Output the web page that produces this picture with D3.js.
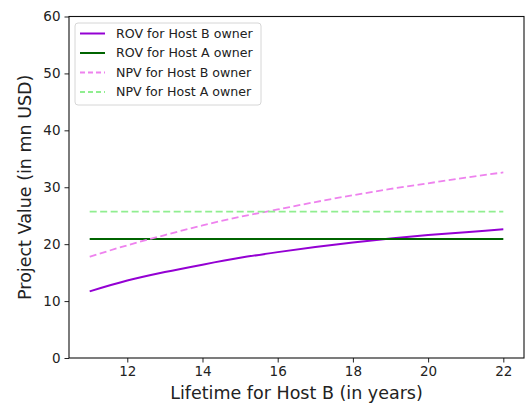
<!DOCTYPE html>
<html>
<head>
<meta charset="utf-8">
<script src="https://cdn.jsdelivr.net/npm/d3@7"></script>
<style>
  html, body { margin: 0; padding: 0; background: #fff; }
  svg { display: block; font-family: "DejaVu Sans", sans-serif; }
</style>
</head>
<body>
<svg id="chart" width="525" height="406"></svg>
<script>
// Lifetime of Host B (years)
const years = [11, 12, 13, 14, 15, 16, 17, 18, 19, 20, 21, 22];
// Real-option value for Host B owner (mn USD)
const rovHostB = [11.7, 13.6, 15.1, 16.4, 17.6, 18.6, 19.5, 20.3, 21.0, 21.6, 22.1, 22.6];
// Real-option value for Host A owner (mn USD)
const rovHostA = [20.9, 20.9, 20.9, 20.9, 20.9, 20.9, 20.9, 20.9, 20.9, 20.9, 20.9, 20.9];
// Net present value for Host B owner (mn USD)
const npvHostB = [17.8, 19.8, 21.6, 23.3, 24.8, 26.1, 27.4, 28.6, 29.7, 30.7, 31.7, 32.6];
// Net present value for Host A owner (mn USD)
const npvHostA = [25.7, 25.7, 25.7, 25.7, 25.7, 25.7, 25.7, 25.7, 25.7, 25.7, 25.7, 25.7];

const xTicks = [12, 14, 16, 18, 20, 22];
const yTicks = [0, 10, 20, 30, 40, 50, 60];

const seriesList = [
  { name: "ROV for Host B owner", values: rovHostB, color: "#9400D3", dash: null, width: 2 },
  { name: "ROV for Host A owner", values: rovHostA, color: "#006400", dash: null, width: 2 },
  { name: "NPV for Host B owner", values: npvHostB, color: "#EE82EE", dash: "7,3.5", width: 1.8 },
  { name: "NPV for Host A owner", values: npvHostA, color: "#90EE90", dash: "7,3.5", width: 1.8 }
];

const svg = d3.select("#chart");
const plot = { left: 69, right: 524, top: 16.5, bottom: 358 };

// x domain padded by 5% of the data span on each side
const span = d3.max(years) - d3.min(years);
const x = d3.scaleLinear()
  .domain([d3.min(years) - span * 0.05, d3.max(years) + span * 0.05])
  .range([plot.left, plot.right]);
const y = d3.scaleLinear().domain([0, 60]).range([plot.bottom, plot.top]);

// Series lines
const line = d3.line().x(d => x(d[0])).y(d => y(d[1])).curve(d3.curveMonotoneX);
const g = svg.append("g");
seriesList.forEach(s => {
  g.append("path")
    .datum(years.map((yr, i) => [yr, s.values[i]]))
    .attr("d", line)
    .attr("fill", "none")
    .attr("stroke", s.color)
    .attr("stroke-width", s.width)
    .attr("stroke-dasharray", s.dash);
});

// Axes
const xAxis = svg.append("g")
  .attr("transform", `translate(0,${plot.bottom})`)
  .call(d3.axisBottom(x).tickValues(xTicks).tickSize(4.5).tickPadding(4).tickSizeOuter(0));
const yAxis = svg.append("g")
  .attr("transform", `translate(${plot.left},0)`)
  .call(d3.axisLeft(y).tickValues(yTicks).tickSize(4.5).tickPadding(4).tickSizeOuter(0));
[xAxis, yAxis].forEach(a => {
  a.selectAll("text").attr("font-size", 13.5).attr("fill", "#222").attr("font-family", "DejaVu Sans, sans-serif");
  a.selectAll("line").attr("stroke", "#222").attr("stroke-width", 1);
  a.select(".domain").remove();
});

// Frame
svg.append("rect")
  .attr("x", plot.left).attr("y", plot.top)
  .attr("width", plot.right - plot.left).attr("height", plot.bottom - plot.top)
  .attr("fill", "none").attr("stroke", "#111").attr("stroke-width", 1.1);

// Axis titles
svg.append("text")
  .attr("x", (plot.left + plot.right) / 2).attr("y", 399)
  .attr("text-anchor", "middle").attr("font-size", 17.5).attr("fill", "#222")
  .text("Lifetime for Host B (in years)");
svg.append("text")
  .attr("transform", `translate(31,${(plot.top + plot.bottom) / 2}) rotate(-90)`)
  .attr("text-anchor", "middle").attr("font-size", 17.5).attr("fill", "#222")
  .text("Project Value (in mn USD)");

// Legend
const legend = svg.append("g").attr("transform", "translate(75,23)");
legend.append("rect")
  .attr("width", 186).attr("height", 82).attr("rx", 3)
  .attr("fill", "#fff").attr("fill-opacity", 0.85)
  .attr("stroke", "#d6d6d6").attr("stroke-width", 1);
seriesList.forEach((s, i) => {
  const yy = 10.5 + i * 19.5;
  legend.append("line")
    .attr("x1", 5).attr("x2", 30).attr("y1", yy).attr("y2", yy)
    .attr("stroke", s.color).attr("stroke-width", s.width)
    .attr("stroke-dasharray", s.dash ? "5,3" : null);
  legend.append("text")
    .attr("x", 41).attr("y", yy).attr("dy", "0.35em")
    .attr("font-size", 12.6).attr("fill", "#222")
    .text(s.name);
});
</script>
</body>
</html>
